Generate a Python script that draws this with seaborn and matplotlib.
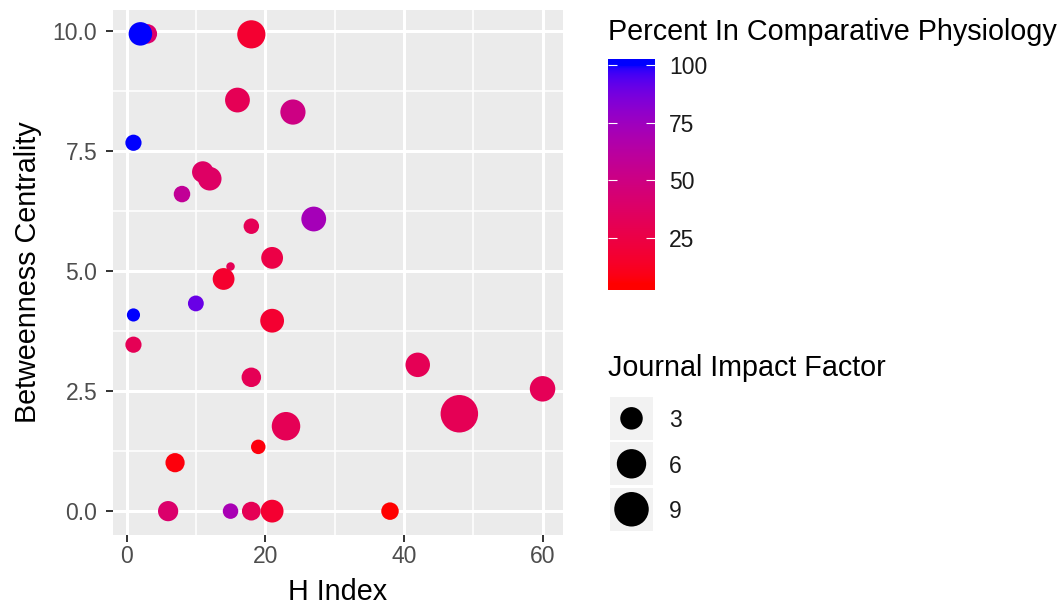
import numpy as np
import pandas as pd
import matplotlib
matplotlib.use("Agg")
import matplotlib.pyplot as plt
from matplotlib.colors import ListedColormap, Normalize
from matplotlib.patches import Rectangle
import seaborn as sns

# ---- data -------------------------------------------------------------
h_index = [3, 2, 18, 16, 24, 1, 11, 12, 8, 27, 18, 21, 15, 14, 10,
           1, 21, 1, 42, 18, 60, 48, 23, 19, 7, 6, 15, 18, 21, 38]
betweenness = [9.95, 9.95, 9.94, 8.57, 8.32, 7.68, 7.07, 6.93, 6.61, 6.09,
               5.94, 5.28, 5.10, 4.84, 4.33, 4.09, 3.97, 3.47, 3.05, 2.79,
               2.55, 2.03, 1.77, 1.34, 1.01, 0.0, 0.0, 0.0, 0.0, 0.0]
percent_comp_phys = [40, 100, 17, 31, 50, 100, 37, 37, 58, 72,
                     31, 25, 31, 16, 90, 100, 17, 31, 31, 31,
                     32, 31, 31, 7, 7, 40, 70, 31, 17, 5]
impact_factor = [2.06, 3.36, 5.39, 3.87, 4.03, 1.29, 2.66, 3.40, 1.35, 3.87,
                 1.16, 2.76, 0.55, 2.76, 1.22, 0.82, 3.47, 1.29, 3.74, 2.06,
                 4.16, 11.05, 5.55, 1.00, 1.98, 2.26, 1.16, 1.87, 3.10, 1.56]

x_ticks = [0, 20, 40, 60]
y_ticks = [0.0, 2.5, 5.0, 7.5, 10.0]
colorbar_ticks = [25, 50, 75, 100]
size_legend_values = [3, 6, 9]

df = pd.DataFrame({
    "h_index": h_index,
    "betweenness": betweenness,
    "percent": percent_comp_phys,
    "impact": impact_factor,
})

DPI = 100
W, H = 1064, 605


# ---- red -> blue gradient interpolated in CIELAB ------------------------
def srgb_to_lab(rgb):
    c = np.asarray(rgb, float)
    lin = np.where(c <= 0.04045, c / 12.92, ((c + 0.055) / 1.055) ** 2.4)
    M = np.array([[0.4124564, 0.3575761, 0.1804375],
                  [0.2126729, 0.7151522, 0.0721750],
                  [0.0193339, 0.1191920, 0.9503041]])
    xyz = M @ lin / np.array([0.95047, 1.0, 1.08883])
    d = 6 / 29
    f = np.where(xyz > d ** 3, np.cbrt(xyz), xyz / (3 * d * d) + 4 / 29)
    return np.array([116 * f[1] - 16, 500 * (f[0] - f[1]), 200 * (f[1] - f[2])])


def lab_to_srgb(lab):
    L, a, b = lab
    fy = (L + 16) / 116
    fx = fy + a / 500
    fz = fy - b / 200
    d = 6 / 29
    f = np.array([fx, fy, fz])
    xyz = np.where(f > d, f ** 3, 3 * d * d * (f - 4 / 29))
    xyz = xyz * np.array([0.95047, 1.0, 1.08883])
    Minv = np.array([[3.2404542, -1.5371385, -0.4985314],
                     [-0.9692660, 1.8760108, 0.0415560],
                     [0.0556434, -0.2040259, 1.0572252]])
    lin = np.clip(Minv @ xyz, 0, 1)
    c = np.where(lin <= 0.0031308, 12.92 * lin, 1.055 * lin ** (1 / 2.4) - 0.055)
    return np.clip(c, 0, 1)


lab_lo = srgb_to_lab([1, 0, 0])
lab_hi = srgb_to_lab([0, 0, 1])
grad = [lab_to_srgb(lab_lo + t * (lab_hi - lab_lo)) for t in np.linspace(0, 1, 256)]
red_blue = ListedColormap(grad, name="red_blue_lab")

pct_min, pct_max = min(percent_comp_phys), max(percent_comp_phys)
imp_min, imp_max = min(impact_factor), max(impact_factor)

# point diameters (px) grow with the square root of the rescaled value
D_MIN, D_MAX = 8.5, 37.5


def marker_area(v):
    r = np.clip((np.asarray(v, float) - imp_min) / (imp_max - imp_min), 0, 1)
    d_px = D_MIN + (D_MAX - D_MIN) * np.sqrt(r)
    return (d_px * 72 / DPI) ** 2


size_map = {v: float(marker_area(v)) for v in sorted(set(impact_factor))}

# ---- style ------------------------------------------------------------
sns.set_style("darkgrid", {"axes.facecolor": "#EBEBEB", "grid.color": "white"})
plt.rcParams["font.family"] = ["Liberation Sans", "DejaVu Sans"]

TICK_FS = 16.5
TITLE_FS = 20.7
TICK_COLOR = "#4D4D4D"

fig = plt.figure(figsize=(W / DPI, H / DPI), dpi=DPI)
fig.patch.set_facecolor("white")
ax = fig.add_axes([113 / W, 1 - 535 / H, 450 / W, 525 / H])

sns.scatterplot(
    data=df, x="h_index", y="betweenness",
    hue="percent", palette=red_blue, hue_norm=(pct_min, pct_max),
    size="impact", sizes=size_map,
    linewidth=0, legend=False, ax=ax, zorder=3,
)

ax.margins(x=0.05, y=0.05)
ax.set_xticks(x_ticks)
ax.set_yticks(y_ticks)
ax.set_yticklabels([f"{v:.1f}" for v in y_ticks])
ax.set_xticks([10, 30, 50], minor=True)
ax.set_yticks([1.25, 3.75, 6.25, 8.75], minor=True)
ax.grid(which="major", color="white", linewidth=2.2)
ax.grid(which="minor", color="white", linewidth=1.1)
ax.set_axisbelow(True)
for s in ax.spines.values():
    s.set_visible(False)
ax.tick_params(axis="both", which="major", length=4.8, width=1.4, color="#333333",
               labelsize=TICK_FS, labelcolor=TICK_COLOR, bottom=True, left=True)
ax.tick_params(axis="x", which="major", pad=2.5)
ax.tick_params(axis="y", which="major", pad=6.5)
ax.tick_params(which="minor", length=0)
ax.set_xlabel("H Index", fontsize=TITLE_FS, color="black", labelpad=7)
ax.set_ylabel("Betweenness Centrality", fontsize=TITLE_FS, color="black", labelpad=8)

# ---- colour bar legend --------------------------------------------------
fig.text(608 / W, 1 - 39.5 / H, "Percent In Comparative Physiology",
         fontsize=TITLE_FS, ha="left", va="baseline", color="black")

nbin = 20
half = 0.5 / (nbin - 1) * (pct_max - pct_min)
bar_lo, bar_hi = pct_min - half, pct_max + half
cax = fig.add_axes([608.3 / W, 1 - 290 / H, 46.7 / W, 231 / H])
vals = np.clip(np.linspace(bar_lo, bar_hi, 400), pct_min, pct_max)[:, None]
cax.imshow(vals, cmap=red_blue, norm=Normalize(pct_min, pct_max), origin="lower",
           aspect="auto", extent=[0, 1, bar_lo, bar_hi], interpolation="bilinear")
cax.set_xlim(0, 1)
cax.set_ylim(bar_lo, bar_hi)
cax.set_xticks([])
cax.set_yticks(colorbar_ticks)
cax.grid(False)
for s in cax.spines.values():
    s.set_visible(False)
cax.yaxis.set_ticks_position("both")
cax.yaxis.set_label_position("right")
cax.tick_params(axis="y", direction="in", length=6.7, width=0.8, color="white",
                labelleft=False, labelright=True, labelsize=TICK_FS,
                labelcolor="#1A1A1A", pad=10)

# ---- size legend --------------------------------------------------------
fig.text(608 / W, 1 - 375.5 / H, "Journal Impact Factor",
         fontsize=TITLE_FS, ha="left", va="baseline", color="black")

kax = fig.add_axes([610 / W, 1 - 532 / H, 43 / W, 136.4 / H])
kax.set_xlim(0, 1)
kax.set_ylim(len(size_legend_values), 0)
kax.axis("off")
for i, v in enumerate(size_legend_values):
    kax.add_patch(Rectangle((0, i + 0.03), 1, 0.94, facecolor="#F2F2F2",
                            edgecolor="none"))
    kax.text(1.37, i + 0.5, str(v), fontsize=TICK_FS, color="#1A1A1A",
             ha="left", va="center_baseline", transform=kax.transData, clip_on=False)
kax.scatter([0.5] * len(size_legend_values),
            [i + 0.5 for i in range(len(size_legend_values))],
            s=marker_area(size_legend_values), color="black", linewidth=0, zorder=3)

fig.savefig("out.png", dpi=DPI, facecolor="white")
